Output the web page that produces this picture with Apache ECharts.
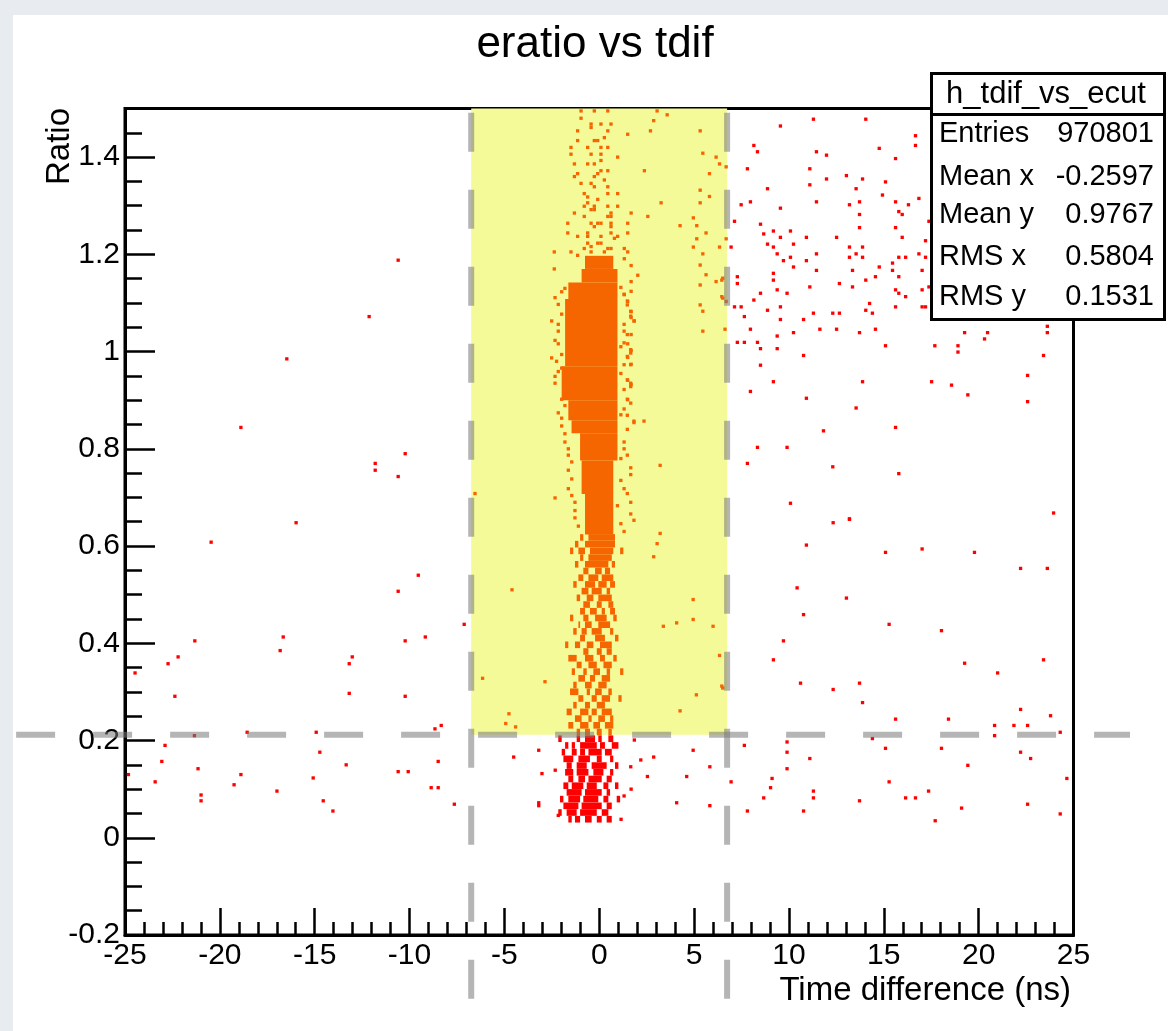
<!DOCTYPE html>
<html>
<head>
<meta charset="utf-8">
<script src="https://cdn.jsdelivr.net/npm/echarts/dist/echarts.min.js"></script>
<style>
html,body{margin:0;padding:0;background:#e8ebef;}
#c{width:1168px;height:1031px;
background:linear-gradient(#e8ebef,#e8ebef) top left/100% 15px no-repeat,
linear-gradient(#e8ebef,#e8ebef) top left/13px 100% no-repeat,#ffffff;}
</style>
</head>
<body>
<div id="c"></div>
<script>
// ---------------- data ----------------
const chartTitle = 'eratio vs tdif';
const xTitle = 'Time difference (ns)';
const yTitle = 'Ratio';
const histName = 'h_tdif_vs_ecut';
const statLabels = ['Entries', 'Mean x', 'Mean y', 'RMS x', 'RMS y'];
const statValues = ['970801', '-0.2597', '0.9767', '0.5804', '0.1531'];

// histogram bin widths (x in ns, y in ratio)
const binW = 0.175, binH = 0.0068;

// cut window (x range, y range) and the cut lines drawn on the pad
const cutX = [-6.75, 6.74];
const cutY = [0.212, 1.5];
const cutLines = [
  [-6.75, -0.331, -6.75, 1.5],
  [6.74, -0.331, 6.74, 1.5],
  [-30.74, 0.212, 27.98, 0.212]
];

// fully filled core bands: [yTop, yBottom, xLeft, xRight]
const coreBands = [
  [1.197, 1.170, -0.75, 0.74],
  [1.170, 1.142, -0.93, 0.96],
  [1.142, 1.108, -1.63, 0.96],
  [1.108, 0.970, -1.80, 0.96],
  [0.970, 0.900, -1.98, 0.96],
  [0.900, 0.859, -1.63, 0.96],
  [0.859, 0.832, -1.46, 0.96],
  [0.832, 0.776, -1.01, 0.96],
  [0.776, 0.707, -0.93, 0.74],
  [0.707, 0.624, -0.75, 0.74]
];

// speckled tail, 2-bin-high rows: [yTop, xLeft, xRight]
const tailRows = [
  [0.6245,-1.01,-0.84],[0.6245,-0.57,0.83],
  [0.6107,-1.28,-1.10],[0.6107,-0.75,0.83],
  [0.5969,-1.54,-1.37],[0.5969,-1.10,-0.75],[0.5969,-0.49,0.74],[0.5969,1.10,1.27],
  [0.5831,-1.01,-0.84],[0.5831,-0.57,0.66],
  [0.5693,-1.28,-1.10],[0.5693,-0.75,0.48],[0.5693,0.66,0.83],
  [0.5555,-0.84,-0.57],[0.5555,-0.22,0.13],[0.5555,0.30,0.57],
  [0.5417,-1.10,-0.84],[0.5417,-0.57,-0.05],[0.5417,0.13,0.74],
  [0.5279,-1.37,-1.19],[0.5279,-0.75,-0.22],[0.5279,-0.05,0.39],[0.5279,0.57,0.83],
  [0.5141,-0.93,-0.57],[0.5141,-0.40,0.13],[0.5141,0.39,0.57],
  [0.5003,-1.19,-1.01],[0.5003,-0.66,-0.31],[0.5003,-0.05,0.66],
  [0.4865,-0.84,-0.49],[0.4865,-0.13,0.13],[0.4865,0.48,0.74],
  [0.4727,-1.01,-0.75],[0.4727,-0.49,-0.13],[0.4727,0.13,0.30],[0.4727,0.57,0.83],
  [0.4589,-1.54,-1.37],[0.4589,-0.84,-0.57],[0.4589,-0.22,0.39],[0.4589,0.74,0.92],
  [0.4451,-1.10,-1.01],[0.4451,-0.75,-0.40],[0.4451,-0.05,0.57],
  [0.4313,-1.37,-1.19],[0.4313,-0.93,-0.66],[0.4313,-0.40,0.13],[0.4313,0.57,0.74],
  [0.4175,-1.01,-0.75],[0.4175,-0.22,0.30],[0.4175,0.83,1.01],
  [0.4037,-1.80,-1.63],[0.4037,-1.28,-1.01],[0.4037,-0.66,-0.31],[0.4037,0.04,0.66],
  [0.3899,-0.84,-0.57],[0.3899,-0.13,0.13],[0.3899,0.39,0.66],
  [0.3761,-1.63,-1.19],[0.3761,-0.75,-0.31],[0.3761,0.04,0.30],[0.3761,0.74,0.92],
  [0.3623,-1.19,-0.93],[0.3623,-0.57,-0.13],[0.3623,0.22,0.66],
  [0.3485,-1.45,-1.28],[0.3485,-0.84,-0.66],[0.3485,-0.31,0.04],[0.3485,0.39,0.57],[0.3485,1.10,1.27],
  [0.3347,-1.10,-0.75],[0.3347,-0.49,-0.22],[0.3347,0.13,0.57],
  [0.3209,-1.37,-1.19],[0.3209,-0.75,-0.40],[0.3209,-0.05,0.39],
  [0.3071,-1.54,-1.10],[0.3071,-0.66,-0.49],[0.3071,-0.22,0.13],[0.3071,0.48,0.66],
  [0.2933,-1.10,-0.84],[0.2933,-0.40,-0.13],[0.2933,0.13,0.57],[0.2933,1.01,1.18],
  [0.2795,-1.37,-1.19],[0.2795,-0.75,-0.49],[0.2795,-0.13,0.30],
  [0.2657,-1.72,-1.45],[0.2657,-1.01,-0.57],[0.2657,-0.40,-0.13],[0.2657,0.13,0.66],
  [0.2519,-1.28,-0.93],[0.2519,-0.57,-0.40],[0.2519,-0.05,0.30],[0.2519,0.57,0.74],
  [0.2381,-1.63,-1.37],[0.2381,-1.01,-0.57],[0.2381,-0.31,0.04],[0.2381,0.30,0.74],
  [0.2243,-1.19,-1.01],[0.2243,-0.75,-0.49],[0.2243,-0.13,0.13],[0.2243,0.48,0.66],
  [0.2105,-2.16,-1.98],[0.2105,-1.19,-1.01],[0.2105,-0.75,-0.22],[0.2105,-0.05,0.13],[0.2105,0.48,0.74],
  [0.1967,-1.80,-1.63],[0.1967,-1.45,-1.28],[0.1967,-1.01,-0.13],[0.1967,0.04,0.30],[0.1967,0.66,1.01],
  [0.1829,-1.98,-1.80],[0.1829,-1.45,-1.19],[0.1829,-1.01,-0.75],[0.1829,-0.57,0.13],[0.1829,0.30,0.66],
  [0.1691,-1.89,-1.37],[0.1691,-1.10,-0.49],[0.1691,-0.13,0.13],[0.1691,0.57,0.74],
  [0.1553,-1.72,-1.45],[0.1553,-1.19,-0.66],[0.1553,-0.40,0.39],[0.1553,0.83,1.01],
  [0.1415,-1.80,-1.37],[0.1415,-1.19,-0.57],[0.1415,-0.31,0.22],[0.1415,0.57,0.74],
  [0.1277,-1.63,-1.37],[0.1277,-1.10,-0.75],[0.1277,-0.57,0.13],[0.1277,0.39,0.66],
  [0.1139,-1.89,-1.63],[0.1139,-1.45,-0.84],[0.1139,-0.66,-0.13],[0.1139,0.22,0.48],[0.1139,0.83,1.01],
  [0.1001,-1.72,-0.93],[0.1001,-0.75,0.13],[0.1001,0.39,0.57],
  [0.0863,-2.07,-1.89],[0.0863,-1.63,-1.01],[0.0863,-0.84,-0.05],[0.0863,0.22,0.48],[0.0863,0.92,1.10],
  [0.0725,-1.89,-1.10],[0.0725,-0.93,0.13],[0.0725,0.39,0.66],
  [0.0587,-2.16,-1.98],[0.0587,-1.72,-1.19],[0.0587,-1.01,-0.13],[0.0587,0.13,0.48],
  [0.0449,-1.63,-1.45],[0.0449,-1.28,-1.01],[0.0449,-0.75,-0.40],[0.0449,-0.13,0.13],[0.0449,0.39,0.66]
];

// loose bins along both flanks of the core: [x, y]
const fringeCells = [
  [-2.33,1.111],[-2.16,1.097],[-1.98,1.077],[-2.16,1.056],[-2.16,1.042],[-2.33,1.023],[-2.16,1.016],[-1.98,0.994],
  [-2.25,0.980],[-1.98,0.966],[-2.33,0.949],[-2.33,0.935],[-1.81,0.945],[-1.98,0.902],[-1.81,0.889],[-2.16,0.874],
  [-1.98,0.863],[-1.98,0.847],[-1.81,0.814],[-1.63,0.800],[-1.45,0.773],[-1.63,0.756],[-1.45,0.738],[-1.63,0.718],
  [-1.28,0.690],[-1.28,0.673],[-2.51,1.063],[-2.51,0.987],[-1.81,1.130],[-1.98,1.123],[-2.16,0.959],[-1.81,0.831],
  [-1.63,0.787],[-1.28,0.658],[-1.10,0.641],[-1.45,0.704],
  [1.31,1.118],[1.48,1.104],[1.48,1.096],[1.66,1.083],[1.66,1.073],[1.83,1.063],[1.31,1.056],[1.31,1.042],
  [1.48,1.035],[1.31,1.018],[1.66,1.004],[1.66,0.997],[1.48,0.990],[1.31,0.973],[1.66,0.973],[1.48,0.942],
  [1.66,0.935],[1.66,0.928],[1.48,0.902],[1.66,0.894],[1.31,0.882],[1.48,0.869],[1.83,0.854],[1.48,0.840],
  [1.31,0.814],[1.31,0.800],[1.48,0.787],[1.66,0.761],[1.66,0.747],[1.31,0.718],[1.48,0.708],[1.66,0.690],
  [1.66,0.666],[1.83,0.653],[1.14,1.132],[1.14,1.010],[1.14,0.955],[1.14,0.870],[1.31,0.922],[1.14,0.780],
  [1.14,0.735],[0.96,0.683],[1.14,0.646],[1.31,0.630]
];

// single filled bins around the core: [x, y]
const haloCells = [
  [-0.96,1.495],[-0.26,1.495],[0.45,1.495],[3.05,1.495],[3.58,1.487],[-0.96,1.480],[-0.43,1.468],[-0.43,1.461],
  [0.09,1.468],[0.62,1.468],[2.87,1.475],[-1.14,1.454],[0.45,1.454],[2.70,1.454],[1.50,1.447],[0.27,1.440],
  [-0.26,1.434],[-0.08,1.434],[-1.14,1.434],[-1.49,1.420],[-0.61,1.420],[0.09,1.420],[0.45,1.420],[-1.49,1.406],
  [-0.43,1.406],[0.09,1.406],[0.09,1.393],[0.97,1.400],[-1.31,1.386],[-0.61,1.386],[-0.26,1.386],[0.45,1.372],
  [0.09,1.372],[-1.14,1.366],[-0.08,1.366],[2.38,1.372],[-0.26,1.360],[-1.31,1.360],[0.27,1.353],[-0.96,1.346],
  [-0.43,1.346],[-0.26,1.339],[0.45,1.339],[-0.79,1.325],[-0.61,1.318],[0.45,1.325],[0.97,1.325],[-0.08,1.313],
  [3.26,1.306],[-0.61,1.306],[-0.26,1.299],[-0.79,1.299],[0.45,1.299],[0.97,1.299],[-0.43,1.292],[-0.26,1.292],
  [-1.31,1.285],[0.62,1.285],[1.68,1.285],[-0.79,1.278],[0.45,1.278],[0.62,1.278],[2.56,1.278],[-1.66,1.264],
  [-0.43,1.264],[-0.08,1.264],[0.09,1.264],[0.62,1.264],[1.50,1.264],[-0.26,1.257],[0.62,1.257],[0.62,1.244],
  [-1.66,1.244],[-1.14,1.237],[0.09,1.237],[0.97,1.237],[1.50,1.244],[-0.61,1.244],[-0.61,1.237],[0.80,1.233],
  [-0.61,1.223],[0.09,1.223],[-0.08,1.223],[-0.43,1.216],[-0.79,1.212],[0.45,1.212],[0.62,1.212],[1.32,1.212],
  [-2.37,1.205],[-1.49,1.205],[1.50,1.205],[-0.43,1.205],[0.27,1.205],[-1.14,1.198],[1.32,1.191],[1.68,1.177],
  [2.03,1.157],[-2.37,1.170],
  [1.68,1.144],[1.68,1.124],[1.32,1.117],[1.50,1.103],[1.68,1.082],[1.68,1.070],[1.85,1.063],[1.68,1.035],
  [1.50,1.016],[1.68,1.002],[1.50,0.988],[1.68,0.974],[1.50,0.941],[1.68,0.932],[1.50,0.901],
  [5.32,1.454],[5.46,1.408],[6.16,1.400],[6.34,1.386],[6.69,1.380],[5.81,1.366],[5.32,1.332],[5.81,1.319],
  [5.32,1.306],[4.26,1.259],[5.14,1.259],[4.96,1.275],[5.63,1.244],[6.69,1.232],[5.14,1.232],[4.96,1.215],
  [6.34,1.215],[5.46,1.201],[5.32,1.178],[5.63,1.158],[6.16,1.144],[6.51,1.151],[5.32,1.137],[6.51,1.110],
  [6.69,1.103],[5.32,1.096],[5.46,1.083],[5.46,1.042],[6.46,1.147],[6.46,1.113],[6.63,1.046],
  [3.21,0.766],[2.36,0.857],[1.83,0.857],[-6.55,0.708],[-2.33,0.699],
  [-4.60,0.510],[-6.15,0.328],[-2.86,0.321],[-4.76,0.255],[-4.93,0.235],[-4.41,0.228],[3.21,0.626],[3.05,0.605],
  [2.87,0.578],[4.95,0.490],[3.38,0.435],[4.08,0.442],[4.95,0.449],[6.00,0.435],[6.34,0.375],[6.51,0.308],
  [5.12,0.294],[4.26,0.261],[6.46,0.312],
  [-3.19,0.180],[-4.51,0.166],[-3.02,0.132],[-2.32,0.139],[-3.19,0.072],[-3.19,0.066],[-2.16,0.046],[1.66,0.146],
  [2.19,0.160],[2.87,0.166],[2.54,0.126],[4.61,0.126],[5.83,0.146],[4.08,0.072],[5.83,0.066],[4.95,0.180],
  [1.68,0.100],[1.15,0.038],[1.31,0.086],[1.85,0.201]
];

// isolated bins left of the window: [x, y]
const leftCells = [
  [-10.60,1.188],[-12.13,1.072],[-16.47,0.985],[-18.89,0.844],[-10.23,0.790],[-11.81,0.770],[-11.81,0.756],[-10.60,0.743],
  [-15.98,0.648],[-20.46,0.608],[-9.54,0.540],[-10.60,0.507],[-7.12,0.439],[-21.32,0.405],[-16.66,0.413],[-10.23,0.405],
  [-9.17,0.413],[-22.20,0.372],[-22.73,0.358],[-16.82,0.385],[-13.02,0.372],[-13.18,0.358],[-24.47,0.339],[-22.37,0.291],
  [-13.18,0.297],[-10.23,0.291],[-8.33,0.231],[-8.66,0.224],[-18.56,0.217],[-14.92,0.217],[-21.34,0.210],[-22.89,0.190],
  [-14.73,0.176],[-23.06,0.157],[-8.49,0.157],[-13.34,0.150],[-21.15,0.142],[-10.60,0.136],[-10.07,0.136],[-24.82,0.130],
  [-18.89,0.130],[-15.08,0.123],[-23.41,0.115],[-19.25,0.109],[-8.86,0.103],[-8.49,0.103],[-16.99,0.096],[-20.99,0.088],
  [-20.99,0.076],[-14.55,0.076],[-7.64,0.069],[-14.04,0.055]
];

// isolated bins right of the window: [x, y]
const rightCells = [
  [9.55,1.464],[11.29,1.478],[14.05,1.478],[16.67,1.444],[16.67,1.424],[8.15,1.424],[8.34,1.411],[11.45,1.411],
  [11.98,1.404],[14.76,1.418],[15.62,1.397],[7.81,1.376],[11.10,1.376],[13.03,1.362],[11.98,1.355],[13.88,1.355],
  [15.09,1.349],[8.87,1.335],[11.10,1.343],[13.54,1.335],[14.93,1.322],[16.85,1.315],[7.48,1.302],[7.97,1.308],
  [11.45,1.308],[13.19,1.302],[13.72,1.308],[15.62,1.308],[16.30,1.302],[9.55,1.295],[15.79,1.288],[15.97,1.282],
  [13.72,1.282],[7.13,1.268],[8.50,1.262],[17.38,1.268],[13.72,1.255],[15.62,1.255],[9.18,1.248],[10.08,1.248],
  [8.67,1.242],[9.55,1.235],[10.92,1.235],[12.51,1.235],[15.97,1.235],[17.20,1.228],[6.95,1.215],[8.87,1.221],
  [9.18,1.215],[10.24,1.221],[13.19,1.215],[13.88,1.215],[9.38,1.201],[11.45,1.201],[13.54,1.201],[10.08,1.194],
  [13.19,1.194],[13.88,1.194],[15.79,1.194],[16.15,1.194],[16.85,1.201],[17.20,1.194],[9.71,1.187],[10.92,1.187],
  [10.24,1.174],[14.76,1.174],[15.46,1.182],[11.45,1.167],[13.35,1.167],[15.46,1.167],[17.02,1.167],[9.18,1.161],
  [7.28,1.154],[14.56,1.154],[15.79,1.154],[9.18,1.147],[14.05,1.147],[7.28,1.140],[12.66,1.140],[11.10,1.133],
  [13.35,1.133],[17.38,1.133],[9.38,1.127],[9.90,1.120],[8.50,1.120],[15.62,1.127],[15.79,1.120],[17.02,1.127],
  [16.15,1.113],[8.15,1.106],[14.25,1.099],[7.13,1.092],[7.48,1.092],[9.55,1.092],[15.62,1.092],[17.02,1.092],
  [17.20,1.092],[8.87,1.085],[14.05,1.085],[11.29,1.079],[12.31,1.079],[12.66,1.079],[14.40,1.079],[7.65,1.072],
  [9.55,1.066],[10.77,1.066],[7.97,1.046],[11.63,1.046],[12.51,1.046],[14.56,1.046],[10.24,1.039],[13.72,1.039],
  [9.38,1.032],[7.28,1.019],[7.65,1.019],[8.34,1.019],[8.50,1.006],[9.38,1.006],[15.09,1.012],[10.77,0.992],
  [8.50,0.972],[9.18,0.938],[13.88,0.938],[17.52,0.938],[7.97,0.918],[10.92,0.904],[13.54,0.884],[11.82,0.837],
  [15.62,0.844],[8.34,0.803],[9.90,0.803],[7.81,0.770],[12.31,0.763],[15.79,0.749],[10.08,0.688],[13.19,0.655],
  [19.26,1.039],[20.47,1.039],[20.31,1.026],[17.69,1.012],[18.91,1.012],[18.91,0.999],[23.62,1.052],[23.62,1.039],
  [23.42,0.992],[22.58,0.951],[18.57,0.931],[19.43,0.911],[22.58,0.897],[23.95,0.668],
  [12.33,0.648],[13.19,0.656],[10.92,0.602],[15.09,0.587],[17.02,0.594],[19.78,0.587],[22.21,0.554],[23.62,0.554],
  [10.43,0.514],[13.03,0.493],[10.77,0.459],[15.28,0.439],[18.04,0.426],[9.71,0.405],[9.18,0.366],[19.26,0.359],
  [23.42,0.366],[21.00,0.339],[10.61,0.318],[12.33,0.305],[13.72,0.318],[13.88,0.278],[22.21,0.264],[23.79,0.251],
  [15.62,0.244],[18.41,0.244],[20.84,0.231],[21.86,0.231],[22.58,0.231],[20.84,0.210],[24.30,0.217],[14.40,0.204],
  [7.65,0.190],[9.90,0.197],[9.90,0.176],[15.09,0.184],[18.04,0.184],[22.21,0.176],[22.74,0.163],[11.10,0.163],
  [19.43,0.149],[9.90,0.142],[9.11,0.122],[6.95,0.115],[9.03,0.103],[11.29,0.096],[11.29,0.082],[15.28,0.115],
  [24.65,0.122],[8.67,0.082],[13.72,0.076],[16.15,0.082],[16.67,0.082],[17.36,0.096],[7.81,0.055],[10.77,0.055],
  [19.10,0.061],[17.71,0.035],[22.58,0.069],[24.30,0.049]
];

// ---------------- style ----------------
const FONT = "'Liberation Sans', Arial, Helvetica, sans-serif";
const ORANGE = '#f56500';
const RED = '#ff0000';
const YELLOW = '#f4fa98';
const DASH = 'rgba(120,120,120,0.55)';

function inCut(x, y) {
  return x >= cutX[0] && x <= cutX[1] && y >= cutY[0];
}
function rectFrom(api, x0, yTop, x1, yBot, fill) {
  const p = api.coord([x0, yTop]);
  const q = api.coord([x1, yBot]);
  return { type: 'rect', shape: { x: p[0], y: p[1], width: q[0] - p[0], height: q[1] - p[1] }, style: { fill: fill } };
}

const allCells = fringeCells.concat(haloCells, leftCells, rightCells);

const chart = echarts.init(document.getElementById('c'), null, { renderer: 'canvas' });

const tickStyle = { color: '#000', width: 2.5 };
const option = {
  animation: false,
  backgroundColor: 'transparent',
  grid: { left: 125, right: 94.5, top: 108.5, bottom: 96, show: true, borderColor: '#000', borderWidth: 3, backgroundColor: 'transparent' },
  xAxis: {
    type: 'value', min: -25, max: 25, interval: 5,
    splitLine: { show: false },
    axisLine: { show: true, onZero: false, lineStyle: { color: '#000', width: 3 } },
    axisTick: { show: true, inside: true, length: 27, lineStyle: tickStyle },
    minorTick: { show: true, splitNumber: 5, length: 13, lineStyle: tickStyle },
    minorSplitLine: { show: false },
    axisLabel: { show: true, margin: 6, color: '#000', fontSize: 30, fontFamily: FONT,
      formatter: v => String(Math.round(v)) }
  },
  yAxis: [
    {
      type: 'value', min: -0.2, max: 1.5, interval: 0.2,
      splitLine: { show: false },
      axisLine: { show: true, onZero: false, lineStyle: { color: '#000', width: 3 } },
      axisTick: { show: true, inside: true, length: 30, lineStyle: tickStyle },
      axisLabel: { show: true, margin: 5, color: '#000', fontSize: 30, fontFamily: FONT, showMaxLabel: false,
        formatter: v => (Math.abs(v * 5 - Math.round(v * 5)) > 1e-6 ? '' : String(Number(v.toFixed(1)))) }
    },
    {
      type: 'value', min: -0.2, max: 1.5, interval: 0.05, position: 'left',
      splitLine: { show: false },
      axisLine: { show: false, onZero: false },
      axisTick: { show: true, inside: true, length: 17, lineStyle: tickStyle },
      axisLabel: { show: false }
    }
  ],
  series: [
    {
      type: 'custom', name: 'cut window', z: 1, silent: true,
      data: [[cutX[0], cutX[1], cutY[0], cutY[1]]],
      encode: { x: [0, 1], y: [2, 3] },
      renderItem: (params, api) => rectFrom(api, api.value(0), api.value(3), api.value(1), api.value(2), YELLOW)
    },
    {
      type: 'custom', name: 'core', z: 2, silent: true,
      data: coreBands,
      encode: { x: [2, 3], y: [0, 1] },
      renderItem: (params, api) => {
        const yT = api.value(0), yB = api.value(1), x0 = api.value(2), x1 = api.value(3);
        return rectFrom(api, x0, yT, x1, yB, inCut((x0 + x1) / 2, (yT + yB) / 2) ? ORANGE : RED);
      }
    },
    {
      type: 'custom', name: 'tail', z: 2, silent: true,
      data: tailRows,
      encode: { x: [1, 2], y: [0] },
      renderItem: (params, api) => {
        const yT = api.value(0), x0 = api.value(1), x1 = api.value(2);
        const yB = yT - 2 * binH;
        return rectFrom(api, x0, yT, x1, yB, inCut((x0 + x1) / 2, (yT + yB) / 2) ? ORANGE : RED);
      }
    },
    {
      type: 'custom', name: 'bins', z: 2, silent: true,
      data: allCells,
      encode: { x: 0, y: 1 },
      renderItem: (params, api) => {
        const x = api.value(0), y = api.value(1);
        return rectFrom(api, x - binW / 2, y + binH / 2, x + binW / 2, y - binH / 2, inCut(x, y) ? ORANGE : RED);
      }
    },
    {
      type: 'custom', name: 'cut lines', z: 5, silent: true, clip: false,
      data: cutLines,
      encode: { x: [0, 2], y: [1, 3] },
      renderItem: (params, api) => {
        const a = api.coord([api.value(0), api.value(1)]);
        const b = api.coord([api.value(2), api.value(3)]);
        return { type: 'line', shape: { x1: a[0], y1: a[1], x2: b[0], y2: b[1] },
          style: { stroke: DASH, lineWidth: 6, lineDash: [39, 38], fill: null } };
      }
    }
  ],
  graphic: [
    { type: 'text', z: 50, x: 595, y: 45,
      style: { text: chartTitle, fill: '#000', font: '44px ' + FONT, textAlign: 'center', textVerticalAlign: 'middle' } },
    { type: 'text', z: 50, x: 1071, y: 991,
      style: { text: xTitle, fill: '#000', font: '33px ' + FONT, textAlign: 'right', textVerticalAlign: 'middle' } },
    { type: 'text', z: 50, x: 60, y: 108, rotation: Math.PI / 2,
      style: { text: yTitle, fill: '#000', font: '33px ' + FONT, textAlign: 'right', textVerticalAlign: 'middle' } },
    { type: 'group', z: 60, children: [
      { type: 'rect', z: 60, shape: { x: 931.5, y: 73.5, width: 233, height: 246 },
        style: { fill: '#fff', stroke: '#000', lineWidth: 3 } },
      { type: 'line', z: 61, shape: { x1: 931.5, y1: 114.5, x2: 1164.5, y2: 114.5 },
        style: { stroke: '#000', lineWidth: 3 } },
      { type: 'text', z: 62, x: 1046, y: 94,
        style: { text: histName, fill: '#000', font: '31px ' + FONT, textAlign: 'center', textVerticalAlign: 'middle' } }
    ].concat(statLabels.map((s, i) => ({
      type: 'text', z: 62, x: 939, y: [134, 177, 215, 257, 297][i],
      style: { text: s, fill: '#000', font: '29px ' + FONT, textAlign: 'left', textVerticalAlign: 'middle' }
    }))).concat(statValues.map((s, i) => ({
      type: 'text', z: 62, x: 1154, y: [134, 177, 215, 257, 297][i],
      style: { text: s, fill: '#000', font: '29px ' + FONT, textAlign: 'right', textVerticalAlign: 'middle' }
    }))) }
  ]
};
chart.setOption(option);
</script>
</body>
</html>
